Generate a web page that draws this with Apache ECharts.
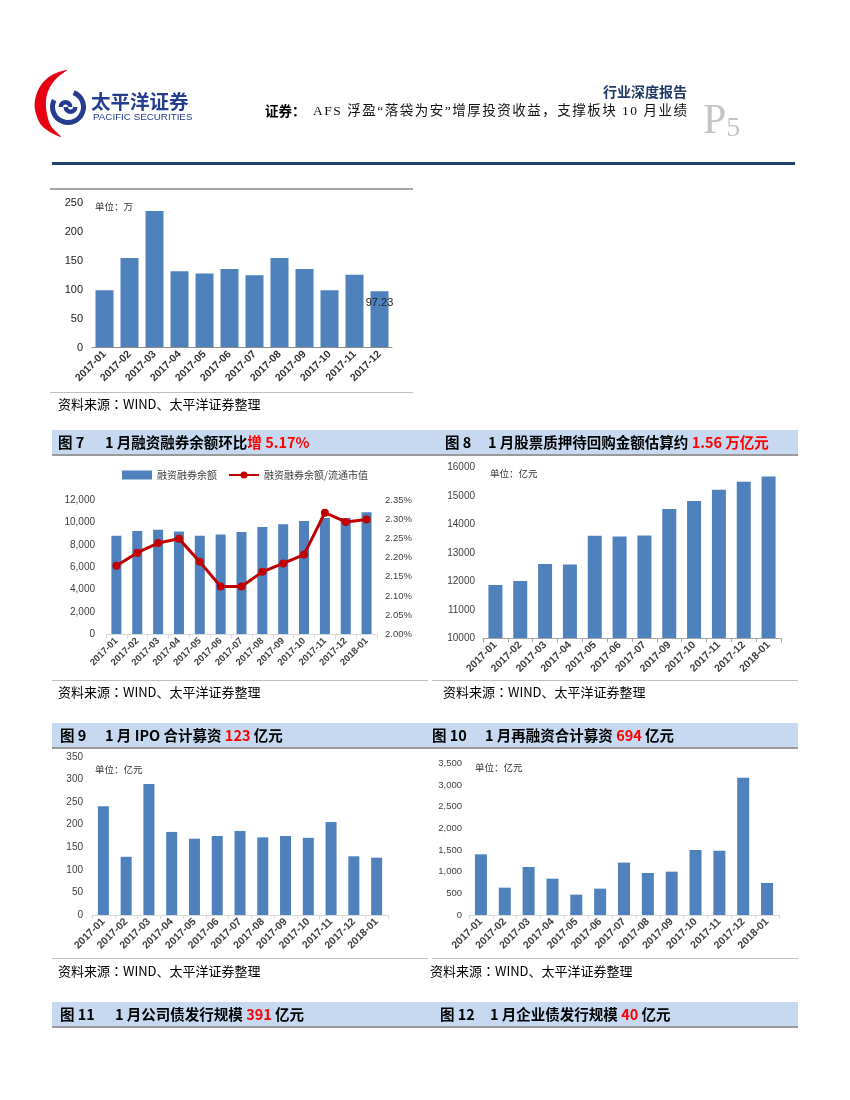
<!DOCTYPE html>
<html>
<head>
<meta charset="utf-8">
<script src="https://cdn.jsdelivr.net/npm/echarts@6/dist/echarts.min.js"></script>
<style>
html,body{margin:0;padding:0;background:#fff;}
#c{width:850px;height:1100px;}
</style>
</head>
<body>
<div id="c"></div>
<script>
// ---------- data ----------
const cats1 = ['2017-01','2017-02','2017-03','2017-04','2017-05','2017-06','2017-07','2017-08','2017-09','2017-10','2017-11','2017-12'];
const vals1 = [99, 155, 236, 132, 128, 136, 125, 155, 136, 99, 126, 97.23];

const cats7 = ['2017-01','2017-02','2017-03','2017-04','2017-05','2017-06','2017-07','2017-08','2017-09','2017-10','2017-11','2017-12','2018-01'];
const balance7 = [8810, 9230, 9350, 9200, 8810, 8930, 9140, 9590, 9830, 10120, 10390, 10390, 10900];
const ratio7 = [2.179, 2.213, 2.238, 2.249, 2.189, 2.125, 2.125, 2.163, 2.185, 2.208, 2.317, 2.293, 2.299];

const cats8 = ['2017-01','2017-02','2017-03','2017-04','2017-05','2017-06','2017-07','2017-09','2017-10','2017-11','2017-12','2018-01'];
const vals8 = [11870, 12010, 12610, 12590, 13600, 13570, 13610, 14540, 14820, 15210, 15490, 15680];

const cats9 = ['2017-01','2017-02','2017-03','2017-04','2017-05','2017-06','2017-07','2017-08','2017-09','2017-10','2017-11','2017-12','2018-01'];
const vals9 = [241, 129, 290, 184, 169, 175, 186, 172, 175, 171, 206, 130, 127];

const cats10 = ['2017-01','2017-02','2017-03','2017-04','2017-05','2017-06','2017-07','2017-08','2017-09','2017-10','2017-11','2017-12','2018-01'];
const vals10 = [1400, 631, 1108, 838, 469, 608, 1208, 969, 1000, 1500, 1485, 3169, 738];

const seriesNames7 = ['融资融券余额', '融资融券余额/流通市值'];
const sourceParts = ['资料来源', '：', 'WIND、太平洋证券整理'];
const headTitle = 'AFS 浮盈“落袋为安”增厚投资收益，支撑板块 10 月业绩';

// ---------- styles ----------
const BLUE = '#4f81bd';
const RED_LINE = '#c00000';
const RED_TXT = '#ff0000';
const CJK = '"Noto Sans CJK SC"';
const LAT = '"Liberation Sans", Arial';
const BAND = '#c6d9f1';

function commaFmt(v){ return v.toLocaleString('en-US'); }
function plainFmt(v){ return String(v); }

function xAxisCfg(gridIndex, data, opts){
  return Object.assign({
    type:'category', gridIndex, data,
    axisLine:{show:true, lineStyle:{color:'#d9d9d9', width:1}},
    axisTick:{show:true, length:4, lineStyle:{color:'#d9d9d9'}},
    axisLabel:{rotate:45, margin:5, fontSize:10, fontWeight:'bold', color:'#404040', fontFamily:LAT, interval:0},
    z:5
  }, opts||{});
}
function yAxisCfg(gridIndex, min, max, interval, opts){
  return Object.assign({
    type:'value', gridIndex, min, max, interval,
    axisLine:{show:false}, axisTick:{show:false}, splitLine:{show:false},
    axisLabel:{fontSize:10, color:'#404040', fontFamily:LAT, margin:9}
  }, opts||{});
}

// ---------- graphic decorations ----------
const g = [];
// logo
g.push({type:'polygon', shape:{smooth:0.35, points:[[67,70],[52,75],[41,85],[35,100],[36,114],[43,127],[61,137],[51,126],[47,114],[46,100],[50,87],[58,77]]}, style:{fill:'#e60012'}});
g.push({type:'arc', shape:{cx:68, cy:107, r:15.5, startAngle:-1.2, endAngle:3.6}, style:{stroke:'#263c8f', lineWidth:5, fill:null}});
g.push({type:'sector', shape:{cx:65.5, cy:107, r:7, r0:2.5, startAngle:Math.PI, endAngle:Math.PI*2}, style:{fill:'#263c8f'}});
g.push({type:'sector', shape:{cx:70.5, cy:107, r:7, r0:2.5, startAngle:0, endAngle:Math.PI}, style:{fill:'#263c8f'}});
g.push({type:'text', x:91, y:102, style:{text:'太平洋证券', font:'bold 19.5px ' + CJK, fill:'#263c8f', textVerticalAlign:'middle'}});
g.push({type:'text', x:93, y:117.5, style:{text:'PACIFIC SECURITIES', font:'9.8px ' + LAT, fill:'#263c8f', textVerticalAlign:'middle'}});
// header texts
g.push({type:'text', x:687, y:92, style:{text:'行业深度报告', font:'bold 14px ' + CJK, fill:'#1f3864', textAlign:'right', textVerticalAlign:'middle'}});
g.push({type:'text', x:265, y:111, style:{text:'证券：', font:'bold 13.5px ' + CJK, fill:'#000', textVerticalAlign:'middle'}});
(function(){
  // justified header title: spread characters evenly between x0 and x1
  const font = '13.5px "Liberation Serif", ' + CJK;
  const x0 = 313, x1 = 687;
  const ctx = document.createElement('canvas').getContext('2d');
  ctx.font = font;
  const chars = Array.from(headTitle);
  const widths = chars.map(function(ch){ return ctx.measureText(ch).width; });
  const total = widths.reduce(function(a, b){ return a + b; }, 0);
  const extra = Math.max(0, (x1 - x0 - total) / (chars.length - 1));
  let x = x0;
  chars.forEach(function(ch, i){
    if (ch !== ' ') {
      g.push({type:'text', x:x, y:111, style:{text:ch, font:font, fill:'#111', textVerticalAlign:'middle'}});
    }
    x += widths[i] + extra;
  });
})();
g.push({type:'text', x:703, y:143, style:{text:'{p|P}{n|5}', textVerticalAlign:'bottom',
  rich:{p:{fontSize:42, fontFamily:'"Liberation Serif"', fill:'#c4c4c4', color:'#c4c4c4', verticalAlign:'bottom', lineHeight:42},
        n:{fontSize:28, fontFamily:'"Liberation Serif"', fill:'#c4c4c4', color:'#c4c4c4', verticalAlign:'bottom', lineHeight:42}}}});
g.push({type:'rect', shape:{x:52, y:162, width:743, height:3}, style:{fill:'#1f3f6e'}});

function sourceText(x, y){
  g.push({type:'text', x:x, y:y, style:{text:'{a|' + sourceParts[0] + '}{c|' + sourceParts[1] + '}{a|' + sourceParts[2] + '}', textVerticalAlign:'middle',
    rich:{a:{font:'13px ' + CJK, fill:'#000', color:'#000'}, c:{font:'13px "Noto Sans CJK TC"', fill:'#000', color:'#000'}}}});
}

// chart 1 frame
g.push({type:'rect', shape:{x:50, y:188, width:363, height:2}, style:{fill:'#a6a6a6'}});
g.push({type:'rect', shape:{x:50, y:392, width:363, height:1}, style:{fill:'#bfbfbf'}});
sourceText(58, 404);
g.push({type:'text', x:95, y:206, style:{text:'单位：万', font:'9.5px ' + CJK, fill:'#333', textVerticalAlign:'middle'}});

// bands
function band(y, leftTitle, leftRest, rightTitle, rightRest, lx, lx2, rx, rx2){
  g.push({type:'rect', shape:{x:52, y:y, width:746, height:25}, style:{fill:BAND}});
  g.push({type:'rect', shape:{x:52, y:y+24, width:746, height:2}, style:{fill:'#9a9a9a'}});
  const rich = {a:{font:'bold 14.5px ' + CJK, fill:'#000', color:'#000'}, r:{font:'bold 14.5px ' + CJK, fill:RED_TXT, color:RED_TXT}};
  g.push({type:'text', x:lx, y:y+12.5, style:{text:leftTitle, font:'bold 14.5px ' + CJK, fill:'#000', textVerticalAlign:'middle'}});
  g.push({type:'text', x:lx2, y:y+12.5, style:{text:leftRest, rich, textVerticalAlign:'middle'}});
  g.push({type:'text', x:rx, y:y+12.5, style:{text:rightTitle, font:'bold 14.5px ' + CJK, fill:'#000', textVerticalAlign:'middle'}});
  g.push({type:'text', x:rx2, y:y+12.5, style:{text:rightRest, rich, textVerticalAlign:'middle'}});
}
band(430, '图 7', '{a|1 月融资融券余额环比}{r|增 5.17%}', '图 8', '{a|1 月股票质押待回购金额估算约 }{r|1.56 万亿元}', 58, 105, 445, 488);
band(723, '图 9', '{a|1 月 IPO 合计募资 }{r|123}{a| 亿元}', '图 10', '{a|1 月再融资合计募资 }{r|694}{a| 亿元}', 60, 105, 432, 485);
band(1002, '图 11', '{a|1 月公司债发行规模 }{r|391}{a| 亿元}', '图 12', '{a|1 月企业债发行规模 }{r|40}{a| 亿元}', 60, 115, 440, 490);

// source lines rows 2 & 3
[680, 958].forEach(function(y){
  g.push({type:'rect', shape:{x:52, y:y, width:376, height:1}, style:{fill:'#bfbfbf'}});
  g.push({type:'rect', shape:{x:432, y:y, width:366, height:1}, style:{fill:'#bfbfbf'}});
});
sourceText(58, 692);
sourceText(443, 692);
sourceText(58, 971);
sourceText(430, 971);
// unit labels
g.push({type:'text', x:490, y:473, style:{text:'单位：亿元', font:'9.5px ' + CJK, fill:'#333', textVerticalAlign:'middle'}});
g.push({type:'text', x:95, y:769, style:{text:'单位：亿元', font:'9.5px ' + CJK, fill:'#333', textVerticalAlign:'middle'}});
g.push({type:'text', x:475, y:767, style:{text:'单位：亿元', font:'9.5px ' + CJK, fill:'#333', textVerticalAlign:'middle'}});

// ---------- option ----------
const chart = echarts.init(document.getElementById('c'), null, {renderer:'canvas'});
const option = {
  animation:false,
  backgroundColor:'#fff',
  graphic:{elements:g},
  legend:{
    left:122, top:470, padding:0, itemWidth:30, itemHeight:9, itemGap:11,
    textStyle:{fontSize:10, color:'#404040', fontFamily:CJK},
    data:[{name:seriesNames7[0], icon:'rect'}, {name:seriesNames7[1]}]
  },
  grid:[
    {left:92, top:203, width:300, height:144.5},
    {left:106, top:500, width:271, height:134.5},
    {left:483, top:467.3, width:298, height:171},
    {left:92, top:757, width:296, height:158},
    {left:469, top:763.3, width:310, height:151.7}
  ],
  xAxis:[
    xAxisCfg(0, cats1, {axisLine:{show:true, lineStyle:{color:'#8c8c8c'}}, axisTick:{show:false},
      axisLabel:{rotate:45, margin:5, fontSize:10.5, fontWeight:'bold', color:'#333', fontFamily:LAT, interval:0}}),
    xAxisCfg(1, cats7, {axisLabel:{rotate:45, margin:5, fontSize:9.5, fontWeight:'bold', color:'#404040', fontFamily:LAT, interval:0}}),
    xAxisCfg(2, cats8, {axisLine:{show:true, lineStyle:{color:'#a6a6a6'}}, axisTick:{show:true, length:4, lineStyle:{color:'#a6a6a6'}},
      axisLabel:{rotate:45, margin:5, fontSize:10.5, fontWeight:'bold', color:'#404040', fontFamily:LAT, interval:0}}),
    xAxisCfg(3, cats9, {axisLabel:{rotate:45, margin:5, fontSize:10.5, fontWeight:'bold', color:'#404040', fontFamily:LAT, interval:0}}),
    xAxisCfg(4, cats10, {axisLabel:{rotate:45, margin:5, fontSize:10.5, fontWeight:'bold', color:'#404040', fontFamily:LAT, interval:0}})
  ],
  yAxis:[
    yAxisCfg(0, 0, 250, 50, {axisLabel:{fontSize:11, color:'#222', fontFamily:LAT, margin:9}}),
    yAxisCfg(1, 0, 12000, 2000, {axisLabel:{fontSize:10, color:'#404040', fontFamily:LAT, margin:11, formatter:commaFmt}}),
    yAxisCfg(1, 2.0, 2.35, 0.05, {position:'right', axisLabel:{fontSize:9.5, color:'#404040', fontFamily:LAT, margin:8, formatter:function(v){return v.toFixed(2)+'%';}}}),
    yAxisCfg(2, 10000, 16000, 1000, {axisLabel:{fontSize:10, color:'#404040', fontFamily:LAT, margin:8, formatter:plainFmt}}),
    yAxisCfg(3, 0, 350, 50, {axisLabel:{fontSize:10, color:'#404040', fontFamily:LAT, margin:9}}),
    yAxisCfg(4, 0, 3500, 500, {axisLabel:{fontSize:9.5, color:'#404040', fontFamily:LAT, margin:7, formatter:commaFmt}})
  ],
  series:[
    {type:'bar', xAxisIndex:0, yAxisIndex:0, barWidth:18, itemStyle:{color:BLUE},
      data: vals1.map(function(v, i){
        return i === vals1.length - 1
          ? {value:v, label:{show:true, position:'insideTop', distance:6, fontSize:11, color:'#222', fontFamily:LAT}}
          : v;
      })},
    {type:'bar', name:seriesNames7[0], xAxisIndex:1, yAxisIndex:1, barWidth:10, itemStyle:{color:BLUE}, data:balance7},
    {type:'line', name:seriesNames7[1], xAxisIndex:1, yAxisIndex:2, data:ratio7, symbol:'circle', symbolSize:8,
      lineStyle:{color:RED_LINE, width:3}, itemStyle:{color:RED_LINE}, z:4},
    {type:'bar', xAxisIndex:2, yAxisIndex:3, barWidth:14, clip:true, itemStyle:{color:BLUE}, data:vals8},
    {type:'bar', xAxisIndex:3, yAxisIndex:4, barWidth:11, itemStyle:{color:BLUE}, data:vals9},
    {type:'bar', xAxisIndex:4, yAxisIndex:5, barWidth:12, itemStyle:{color:BLUE}, data:vals10}
  ]
};
chart.setOption(option);
</script>
</body>
</html>
